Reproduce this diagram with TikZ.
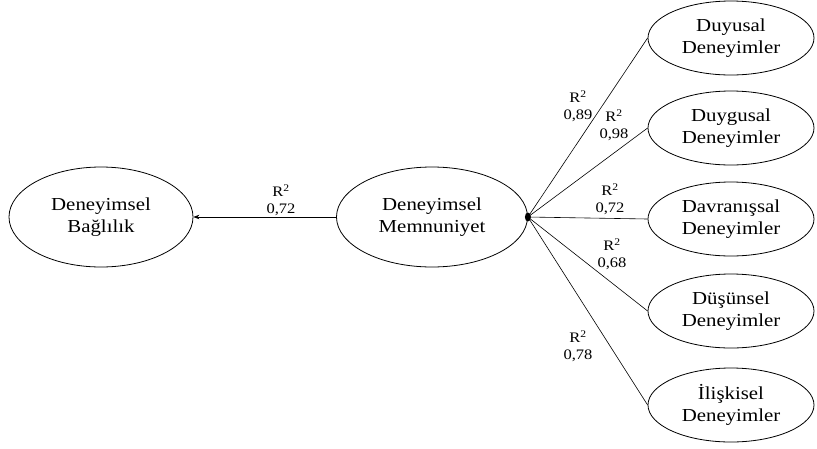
\documentclass[tikz,border=0pt]{standalone}
\usepackage{fontspec}
\setmainfont[FakeStretch=1.14]{Liberation Serif}
\usetikzlibrary{arrows.meta,positioning,shapes.geometric}

\begin{document}
\begin{tikzpicture}[
    x=1pt, y=-1pt,
    construct/.style={ellipse, draw, thick, inner sep=0pt,
                      minimum width=184pt, minimum height=100pt,
                      align=center, font=\fontsize{18.3}{22}\selectfont},
    dimension/.style={ellipse, draw, thick, inner sep=0pt,
                      minimum width=166pt, minimum height=74pt,
                      align=center, font=\fontsize{18.3}{22}\selectfont},
    rsq/.style={align=center, inner sep=0pt, font=\fontsize{14.5}{16.5}\selectfont},
    path/.style={-{Stealth[length=6pt,width=4.5pt]}, semithick},
    link/.style={semithick}
]
\useasboundingbox (0,0) rectangle (817,448);

% Second-order constructs
\node[construct] (bag) at (101,217) {Deneyimsel\\Bağlılık};
\node[construct, minimum width=191pt] (mem) at (432,217) {Deneyimsel\\Memnuniyet};

% First-order dimensions
\node[dimension] (duy) at (731,38) {Duyusal\\Deneyimler};
\node[dimension] (duyg) at (731,128) {Duygusal\\Deneyimler};
\node[dimension] (dav) at (731,219) {Davranışsal\\Deneyimler};
\node[dimension] (dus) at (731,311) {Düşünsel\\Deneyimler};
\node[dimension] (ilis) at (731,405) {İlişkisel\\Deneyimler};

% Hub
\coordinate (hub) at (mem.east);
\fill (hub) ellipse (3pt and 4.5pt);

% Paths
\draw[path] (mem.west) -- (bag.east);
\foreach \dim in {duy,duyg,dav,dus,ilis}
  \draw[link] (hub) -- (\dim.west);

% R-square values
\node[rsq] (r1) at (281,200) {R\textsuperscript{2}\\0,72};
\node[rsq] (r2) at (578,106) {R\textsuperscript{2}\\0,89};
\node[rsq] (r3) at (614,125) {R\textsuperscript{2}\\0,98};
\node[rsq] (r4) at (610,199) {R\textsuperscript{2}\\0,72};
\node[rsq] (r5) at (612,254) {R\textsuperscript{2}\\0,68};
\node[rsq] (r6) at (578,346) {R\textsuperscript{2}\\0,78};

\end{tikzpicture}
\end{document}
